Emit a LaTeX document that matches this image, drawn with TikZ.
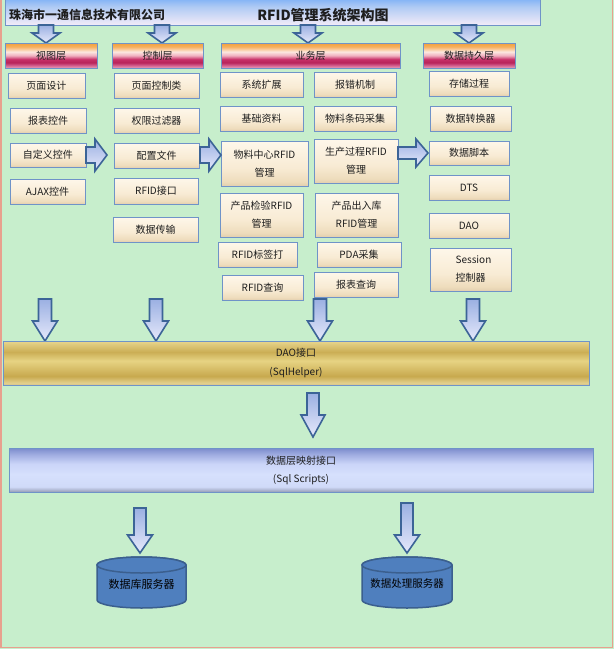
\documentclass[tikz,border=0pt]{standalone}
\usepackage{fontspec}
\setmainfont{Noto Sans CJK SC}
\definecolor{bggreen}{HTML}{C7EECC}
\definecolor{frame}{HTML}{E8A08E}
\definecolor{boxb}{HTML}{6F93C8}
\definecolor{txt}{HTML}{1E1E1E}
\definecolor{arrb}{HTML}{3C6497}
\definecolor{cylf}{HTML}{4F7FBE}
\definecolor{cylb}{HTML}{3B5F8E}
\definecolor{c1}{HTML}{FEF7EA}\definecolor{c2}{HTML}{F8EBD4}\definecolor{c3}{HTML}{EEDCBC}\definecolor{c4}{HTML}{E2CFAE}
\definecolor{h1}{HTML}{F2A03A}\definecolor{h2}{HTML}{F6B060}\definecolor{h3}{HTML}{FCE8E0}\definecolor{h4}{HTML}{F0B0C0}
\definecolor{h5}{HTML}{C83068}\definecolor{h6}{HTML}{B8245A}\definecolor{h7}{HTML}{D05888}\definecolor{h8}{HTML}{E8A0B8}
\definecolor{t1}{HTML}{7FB1F6}\definecolor{t2}{HTML}{AFCAF4}\definecolor{t3}{HTML}{F4ECF8}
\definecolor{g1}{HTML}{E8D68E}\definecolor{g2}{HTML}{CBAE55}\definecolor{g3}{HTML}{E6D383}\definecolor{g4}{HTML}{C8A94E}\definecolor{g5}{HTML}{E2CF8C}\definecolor{g6}{HTML}{D6C48C}
\definecolor{m1}{HTML}{7A8BCC}\definecolor{m2}{HTML}{9EABE0}\definecolor{m3}{HTML}{CBD5F8}\definecolor{m4}{HTML}{D6E0FD}\definecolor{m5}{HTML}{D0DAF8}\definecolor{m6}{HTML}{A9B1CC}\definecolor{m7}{HTML}{939BB5}
\definecolor{a1}{HTML}{9BB0E2}\definecolor{a2}{HTML}{E6E9FB}
\pgfdeclareverticalshading{cream}{100bp}{color(0bp)=(c4); color(25bp)=(c4); color(30bp)=(c3); color(45bp)=(c2); color(75bp)=(c1); color(100bp)=(c1)}
\pgfdeclareverticalshading{hdr}{100bp}{color(0bp)=(h8); color(25bp)=(h8); color(31bp)=(h7); color(36bp)=(h6); color(42.5bp)=(h5); color(50bp)=(h4); color(57.5bp)=(h3); color(67.5bp)=(h2); color(75bp)=(h1); color(100bp)=(h1)}
\pgfdeclareverticalshading{ttl}{100bp}{color(0bp)=(t3); color(25bp)=(t3); color(60bp)=(t2); color(75bp)=(t1); color(100bp)=(t1)}
\pgfdeclareverticalshading{gold}{100bp}{color(0bp)=(g6); color(25bp)=(g6); color(27.5bp)=(g5); color(35bp)=(g4); color(52.5bp)=(g3); color(62.5bp)=(g2); color(75bp)=(g1); color(100bp)=(g1)}
\pgfdeclareverticalshading{mapsh}{100bp}{color(0bp)=(m7); color(25bp)=(m7); color(27bp)=(m6); color(31bp)=(m5); color(45bp)=(m4); color(57bp)=(m3); color(68bp)=(m2); color(75bp)=(m1); color(100bp)=(m1)}
\pgfdeclareverticalshading{arrsh}{100bp}{color(0bp)=(a2); color(25bp)=(a2); color(75bp)=(a1); color(100bp)=(a1)}
\tikzset{
  box/.style={draw=boxb, line width=0.8pt, shading=cream, font=\fontsize{10}{18}\selectfont, text=txt, inner sep=0pt, align=center},
  hdrbox/.style={draw=boxb, line width=0.6pt, shading=hdr, font=\fontsize{10}{12}\selectfont, text=txt, inner sep=0pt, minimum height=25pt},
  barrow/.style={draw=arrb, line width=1.6pt, shading=arrsh},
  cyl/.style={fill=cylf, draw=cylb, line width=1.5pt}
}
\newcommand{\bx}[6]{\node[box, minimum width=#4pt, minimum height=#5pt] (#1) at (#2,#3) {#6};}
% down block arrow: x, ytop, ybot, shaft half, head half, head length
\newcommand{\bdown}[6]{\draw[barrow] (#1-#4,#2) -- (#1+#4,#2) -- (#1+#4,#3-#6) -- (#1+#5,#3-#6) -- (#1,#3) -- (#1-#5,#3-#6) -- (#1-#4,#3-#6) -- cycle;}
% right block arrow: y, xleft, xright, shaft half, head half, head length
\newcommand{\bright}[6]{\draw[barrow] (#2,#1-#4) -- (#3-#6,#1-#4) -- (#3-#6,#1-#5) -- (#3,#1) -- (#3-#6,#1+#5) -- (#3-#6,#1+#4) -- (#2,#1+#4) -- cycle;}
\begin{document}
\begin{tikzpicture}[x=1pt,y=-1pt]
\useasboundingbox (0,0) rectangle (614,649);
\fill[bggreen] (0,0) rectangle (614,649);
\draw[frame, line width=1.6pt] (1,-3) rectangle (612.5,647.5);
% title bar
\node[draw=boxb, line width=0.8pt, shading=ttl, minimum width=535pt, minimum height=27pt, inner sep=0pt] (tb) at (272.5,12) {};
\node[anchor=west, font=\bfseries\fontsize{12}{12}\selectfont, text=txt, inner sep=0pt] (co) at (9,15) {珠海市一通信息技术有限公司};
\node[font=\bfseries\fontsize{14}{14}\selectfont, text=txt, inner sep=0pt] (tt) at (323,15) {RFID管理系统架构图};
% title arrows
\bdown{46}{25}{43}{7.5}{14}{10}
\bdown{162}{25}{43}{7.5}{14}{10}
\bdown{308}{25}{43}{7.5}{14}{10}
\bdown{469}{25}{43}{7.5}{14}{10}
% headers
\node[hdrbox, minimum width=92pt] (h1) at (51,55.5) {视图层};
\node[hdrbox, minimum width=91pt] (h2) at (157.5,55.5) {控制层};
\node[hdrbox, minimum width=179pt] (h3) at (310.5,55.5) {业务层};
\node[hdrbox, minimum width=92pt] (h4) at (469,55.5) {数据持久层};
% column 1
\bx{v1}{46.5}{85.5}{77}{25}{页面设计}
\bx{v2}{48}{120.5}{76}{25}{报表控件}
\bx{v3}{48}{155}{76}{24}{自定义控件}
\bx{v4}{47.5}{191.5}{75}{25}{AJAX控件}
% column 2
\bx{k1}{156.5}{85.5}{85}{25}{页面控制类}
\bx{k2}{156.5}{120.5}{85}{25}{权限过滤器}
\bx{k3}{156.5}{155.5}{85}{25}{配置文件}
\bx{k4}{156}{191}{84}{26}{RFID接口}
\bx{k5}{155.5}{229.5}{85}{25}{数据传输}
% column 3
\bx{y1}{261.5}{84.5}{83}{25}{系统扩展}
\bx{y2}{355}{84.5}{82}{25}{报错机制}
\bx{y3}{261.5}{118.5}{83}{25}{基础资料}
\bx{y4}{355}{118.5}{82}{25}{物料条码采集}
\bx{y5}{264.5}{163.5}{87}{45}{物料中心RFID\\管理}
\bx{y6}{356}{161}{84}{44}{生产过程RFID\\管理}
\bx{y7}{261.5}{215}{83}{44}{产品检验RFID\\管理}
\bx{y8}{356.5}{215}{83}{44}{产品出入库\\RFID管理}
\bx{y9}{257.5}{254.5}{79}{25}{RFID标签打}
\bx{y10}{359}{254.5}{84}{25}{PDA采集}
\bx{y11}{262.5}{287.5}{81}{25}{RFID查询}
\bx{y12}{356}{284.5}{84}{25}{报表查询}
% column 4
\bx{d1}{469}{83.5}{80}{25}{存储过程}
\bx{d2}{470.5}{118.5}{81}{25}{数据转换器}
\bx{d3}{469}{153}{80}{24}{数据脚本}
\bx{d4}{469}{187.5}{80}{25}{DTS}
\bx{d5}{469}{225.5}{80}{25}{DAO}
\node[box, minimum width=81pt, minimum height=43pt, align=left] (d6) at (470.5,269.5) {\hspace*{6pt}Session\\\hspace*{6pt}控制器};
% right arrows
\bright{155}{86}{107}{8}{16}{12}
\bright{155}{200}{221}{8}{16}{12}
\bright{153}{398}{428}{6}{14}{12}
% down arrows to DAO bar
\bdown{45}{299}{341}{6.5}{12.5}{20}
\bdown{156}{299}{341}{6.5}{12.5}{20}
\bdown{320}{299}{341}{6.5}{12.5}{20}
\bdown{473}{299}{341}{6.5}{12.5}{20}
% DAO bar
\node[draw=boxb, line width=0.8pt, shading=gold, minimum width=586pt, minimum height=44pt, inner sep=0pt, font=\fontsize{10}{19}\selectfont, text=txt, align=center] (dao) at (296,363) {DAO接口\\(SqlHelper)};
\bdown{313}{393}{437}{6}{12}{22}
% mapping bar
\node[draw=boxb, line width=0.8pt, shading=mapsh, minimum width=584pt, minimum height=44pt, inner sep=0pt, font=\fontsize{10}{18}\selectfont, text=txt, align=center] (map) at (301,470) {数据层映射接口\\(Sql Scripts)};
\bdown{140}{508}{553}{6}{12.5}{18}
\bdown{407}{503}{553}{6}{12.5}{18}
% cylinders
\draw[cyl] (97,565) -- (97,600) arc[start angle=180, end angle=360, x radius=44.5pt, y radius=8pt] -- (186,565) arc[start angle=0, end angle=180, x radius=44.5pt, y radius=8pt] -- cycle;
\draw[cyl] (141.5,565) ellipse [x radius=44.5pt, y radius=8pt];
\node[font=\fontsize{11}{11}\selectfont, text=black, inner sep=0pt] (s1) at (141.5,584) {数据库服务器};
\draw[cyl] (362,565) -- (362,600) arc[start angle=180, end angle=360, x radius=45pt, y radius=8pt] -- (452,565) arc[start angle=0, end angle=180, x radius=45pt, y radius=8pt] -- cycle;
\draw[cyl] (407,565) ellipse [x radius=45pt, y radius=8pt];
\node[font=\fontsize{10.5}{10.5}\selectfont, text=black, inner sep=0pt] (s2) at (407,584) {数据处理服务器};
\end{tikzpicture}
\end{document}
